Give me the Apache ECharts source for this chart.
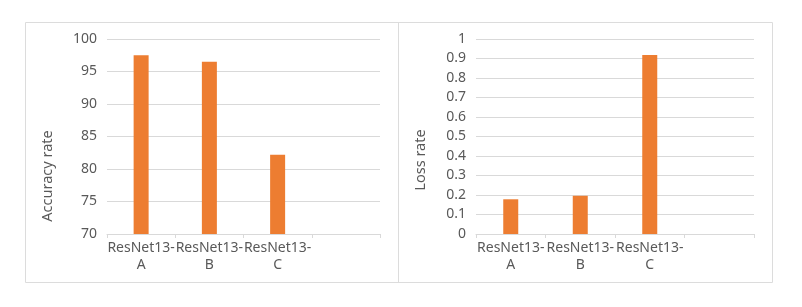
<!DOCTYPE html>
<html>
<head>
<meta charset="utf-8">
<script src="https://cdn.jsdelivr.net/npm/echarts@6/dist/echarts.min.js"></script>
<style>
html,body{margin:0;padding:0;background:#fff;}
#c{width:802px;height:307px;}
</style>
</head>
<body>
<div id="c"></div>
<script>
const categories = ['ResNet13-\nA', 'ResNet13-\nB', 'ResNet13-\nC', ''];
const accuracyValues = [97.5, 96.5, 82.2, null];
const lossValues = [0.178, 0.196, 0.918, null];
const accuracyTicks = { min: 70, max: 100, interval: 5 };
const lossTicks = { min: 0, max: 1, interval: 0.1 };
const accuracyName = 'Accuracy rate';
const lossName = 'Loss rate';

const textColor = '#595959';
const lineColor = '#d9d9d9';
const barColor = '#ED7D31';
const font = 'Noto Sans';

function xAxis(gridIndex) {
  return {
    type: 'category', gridIndex: gridIndex, data: categories,
    boundaryGap: true,
    axisLine: { lineStyle: { color: lineColor, width: 1 } },
    axisTick: { show: true, length: 4, lineStyle: { color: lineColor } },
    axisLabel: { interval: 0, color: textColor, fontFamily: font, fontSize: 14, lineHeight: 17, margin: 6 }
  };
}
function yAxis(gridIndex, t) {
  return {
    type: 'value', gridIndex: gridIndex, min: t.min, max: t.max, interval: t.interval,
    axisLine: { show: false }, axisTick: { show: false },
    splitLine: { lineStyle: { color: lineColor, width: 1 } },
    axisLabel: { color: textColor, fontFamily: font, fontSize: 14, margin: 10 }
  };
}

const chart = echarts.init(document.getElementById('c'), null, { renderer: 'canvas' });
chart.setOption({
  animation: false,
  backgroundColor: '#fff',
  grid: [
    { left: 107, right: 422, top: 39, bottom: 73 },
    { left: 476, right: 48, top: 39, bottom: 73 }
  ],
  xAxis: [xAxis(0), xAxis(1)],
  yAxis: [yAxis(0, accuracyTicks), yAxis(1, lossTicks)],
  series: [
    { type: 'bar', xAxisIndex: 0, yAxisIndex: 0, data: accuracyValues, barWidth: 15, itemStyle: { color: barColor } },
    { type: 'bar', xAxisIndex: 1, yAxisIndex: 1, data: lossValues, barWidth: 15, itemStyle: { color: barColor } }
  ],
  graphic: [
    { type: 'rect', shape: { x: 25.5, y: 22.5, width: 747, height: 260 }, style: { fill: 'none', stroke: '#dcdcdc', lineWidth: 1 }, silent: true },
    { type: 'line', shape: { x1: 398.5, y1: 22.5, x2: 398.5, y2: 282.5 }, style: { stroke: '#dcdcdc', lineWidth: 1 }, silent: true },
    { type: 'text', x: 48, y: 176, rotation: Math.PI / 2, style: { text: accuracyName, fill: textColor, font: '14.5px "Noto Sans"', textAlign: 'center', textVerticalAlign: 'middle' } },
    { type: 'text', x: 421, y: 160, rotation: Math.PI / 2, style: { text: lossName, fill: textColor, font: '14.5px "Noto Sans"', textAlign: 'center', textVerticalAlign: 'middle' } }
  ]
});
</script>
</body>
</html>
